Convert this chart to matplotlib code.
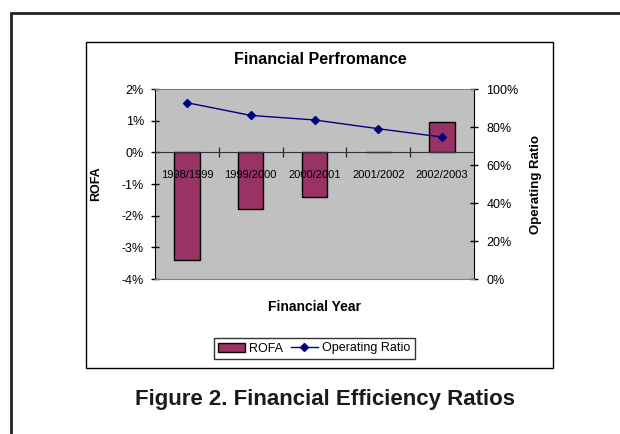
import matplotlib
matplotlib.use("Agg")
import matplotlib.pyplot as plt
from matplotlib.patches import Rectangle
from matplotlib.lines import Line2D
from matplotlib.ticker import FixedLocator, FuncFormatter

plt.rcParams['font.family'] = ['Liberation Sans', 'DejaVu Sans']
plt.rcParams['axes.unicode_minus'] = False

# data (percent)
years = ["1998/1999", "1999/2000", "2000/2001", "2001/2002", "2002/2003"]
rofa = [-3.4, -1.8, -1.42, 0.0, 0.97]
operating_ratio = [92.8, 86.1, 83.7, 79.1, 74.7]

bar_color = "#993366"
line_color = "#000080"
plot_bg = "#c0c0c0"

fig = plt.figure(figsize=(6.2, 4.34), dpi=100)

# outer page frame and inner chart box
fig.add_artist(Rectangle((11 / 620, -0.1), 1.2, 1.1 - 13 / 434, transform=fig.transFigure,
                         fill=False, edgecolor="#222222", lw=2))
fig.add_artist(Rectangle((86 / 620, 66 / 434), 467 / 620, 326 / 434, transform=fig.transFigure,
                         fill=False, edgecolor="black", lw=1))

ax = fig.add_axes((155 / 620, 155 / 434, 319 / 620, 190 / 434))
ax.set_facecolor(plot_bg)
x = list(range(len(years)))
bars = ax.bar(x, rofa, width=0.4, color=bar_color, edgecolor="black", linewidth=1, zorder=1.5)
ax.set_xlim(-0.5, len(years) - 0.5)
ax.set_ylim(-4, 2)
ax.set_yticks(range(-4, 3))
ax.yaxis.set_major_formatter(FuncFormatter(lambda v, p: f"{v:.0f}%"))
ax.tick_params(axis='y', direction='inout', length=6, width=1, labelsize=9, pad=5)

# category axis sits at zero
ax.spines['bottom'].set_position(('data', 0))
ax.spines['bottom'].set_color("#333333")
ax.spines['top'].set_visible(False)
ax.spines['right'].set_visible(False)
ax.set_xticks(x)
ax.set_xticklabels(years, fontsize=8)
ax.xaxis.set_minor_locator(FixedLocator([i + 0.5 for i in x[:-1]]))
ax.tick_params(axis='x', which='major', length=0, pad=13)
ax.tick_params(axis='x', which='minor', direction='inout', length=7, width=1, color="#333333")
ax.set_ylabel("ROFA", fontsize=9, fontweight="bold", labelpad=14)

ax2 = ax.twinx()
ax2.plot(x, operating_ratio, color=line_color, lw=1, marker='D', markersize=4.5, zorder=5)
ax2.set_ylim(0, 100)
ax2.set_yticks(range(0, 101, 20))
ax2.yaxis.set_major_formatter(FuncFormatter(lambda v, p: f"{v:.0f}%"))
ax2.tick_params(axis='y', direction='inout', length=6, width=1, labelsize=9, pad=6)
ax2.spines['left'].set_visible(False)
ax2.spines['top'].set_color("#808080")
ax2.spines['bottom'].set_color("#808080")
ax2.set_ylabel("Operating Ratio", fontsize=9.5, fontweight="bold", labelpad=8)

fig.text(320 / 620, 1 - 59 / 434, "Financial Perfromance", ha="center", va="center",
         fontsize=11.5, fontweight="bold")
fig.text(314 / 620, 1 - 307 / 434, "Financial Year", ha="center", va="center",
         fontsize=10, fontweight="bold")

handles = [Rectangle((0, 0), 1, 1, facecolor=bar_color, edgecolor="black", lw=1),
           Line2D([], [], color=line_color, lw=1, marker='D', markersize=4.5)]
leg = fig.legend(handles, ["ROFA", "Operating Ratio"], loc="center", ncol=2,
                 bbox_to_anchor=(314 / 620, 1 - 348.5 / 434), fontsize=9, frameon=True,
                 fancybox=False, edgecolor="black", handlelength=2.2, handletextpad=0.3,
                 columnspacing=0.6, borderpad=0.35)
leg.get_frame().set_linewidth(1)

fig.text(325 / 620, 1 - 400 / 434, "Figure 2. Financial Efficiency Ratios", ha="center",
         va="center", fontsize=16, fontweight="bold", color="#1a1a1a")

fig.savefig("out.png", dpi=100)
